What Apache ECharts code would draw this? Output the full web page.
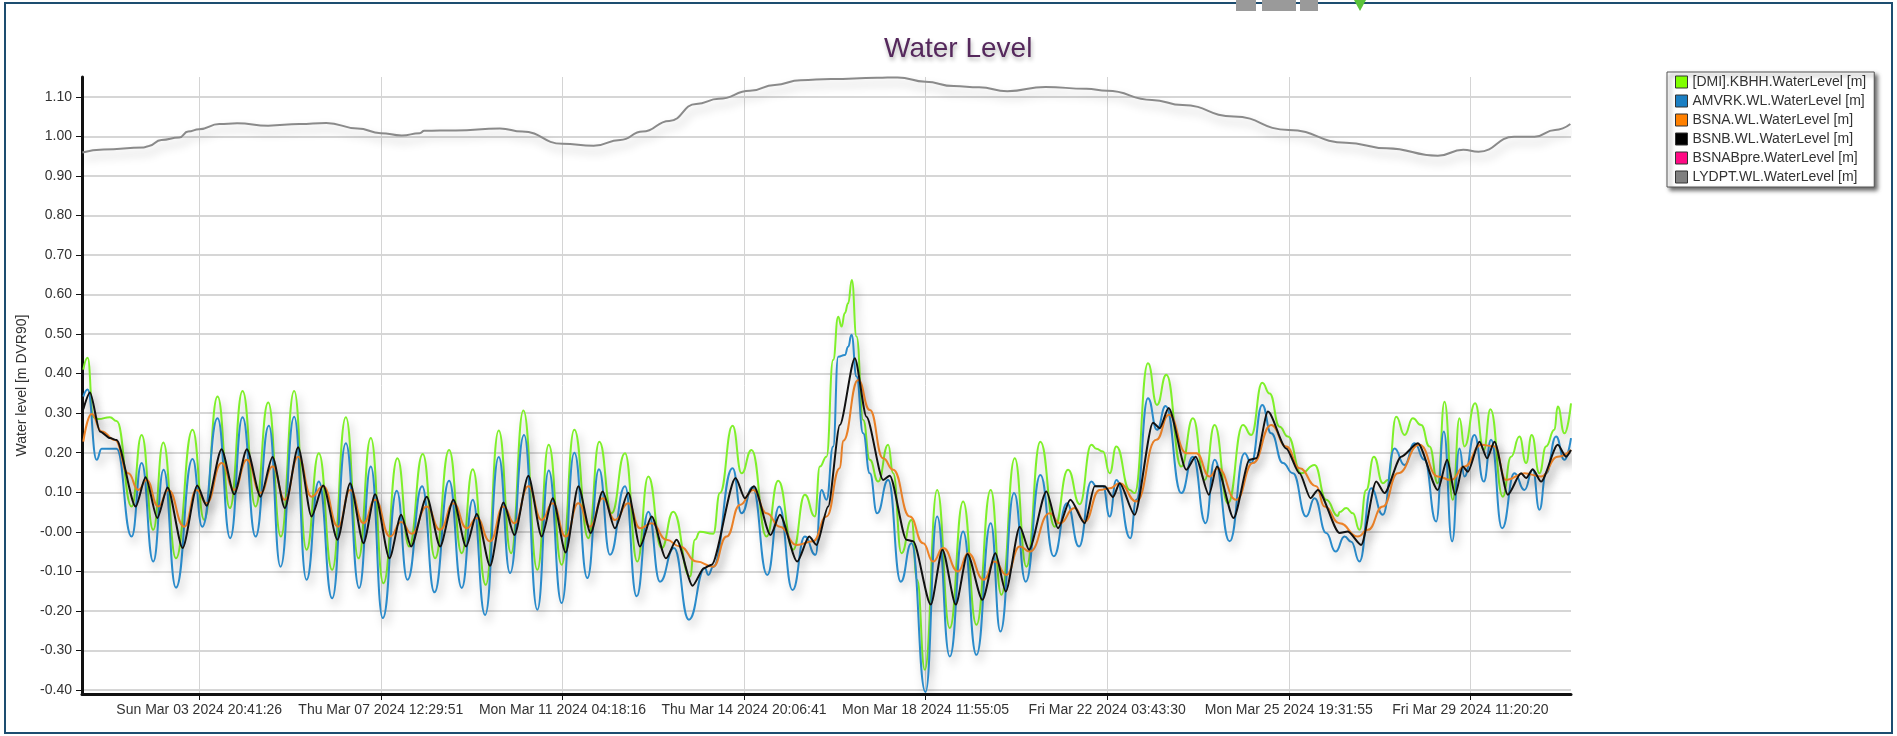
<!DOCTYPE html>
<html>
<head>
<meta charset="utf-8">
<script src="https://cdn.jsdelivr.net/npm/echarts@6.0.0/dist/echarts.min.js"></script>
<style>
html,body{margin:0;padding:0;background:#ffffff;}
#chart{width:1897px;height:736px;}
</style>
</head>
<body>
<div id="chart"></div>
<script>
// ---- Data (time in hours since Fri Mar 01 2024 00:00) ----
const seriesNames = [
  '[DMI].KBHH.WaterLevel [m]',
  'AMVRK.WL.WaterLevel [m]',
  'BSNA.WL.WaterLevel [m]',
  'BSNB.WL.WaterLevel [m]',
  'BSNABpre.WaterLevel [m]',
  'LYDPT.WL.WaterLevel [m]'
];

const xTickHours = [68.6906, 156.4975, 244.3044, 332.1114, 419.9181, 507.7250, 595.5319, 683.3389];
const xTickLabels = [
  'Sun Mar 03 2024 20:41:26', 'Thu Mar 07 2024 12:29:51', 'Mon Mar 11 2024 04:18:16',
  'Thu Mar 14 2024 20:06:41', 'Mon Mar 18 2024 11:55:05', 'Fri Mar 22 2024 03:43:30',
  'Mon Mar 25 2024 19:31:55', 'Fri Mar 29 2024 11:20:20'
];
const yTickValues = [-0.4, -0.3, -0.2, -0.1, 0, 0.1, 0.2, 0.3, 0.4, 0.5, 0.6, 0.7, 0.8, 0.9, 1.0, 1.1];
const yTickLabels = ['-0.40','-0.30','-0.20','-0.10','-0.00','0.10','0.20','0.30','0.40','0.50','0.60','0.70','0.80','0.90','1.00','1.10'];

const kbhh = [[12.64,0.41],[14.73,0.44],[17.47,0.29],[19.88,0.285],[25.52,0.29],[28.74,0.28],[35.99,0.064],[40.83,0.245],[46.46,0.005],[51.30,0.226],
[57.42,-0.067],[65.47,0.258],[71.11,0.03],[77.55,0.342],[83.51,0.06],[89.63,0.356],[95.92,0.064],[102.04,0.327],[108.16,-0.012],[114.60,0.356],
[120.56,-0.045],[126.52,0.199],[132.96,-0.096],[139.57,0.29],[145.69,-0.067],[151.65,0.237],[157.77,-0.13],[164.54,0.186],[170.18,-0.037],[176.78,0.197],
[182.74,-0.067],[189.51,0.207],[195.63,-0.054],[200.94,0.158],[207.22,-0.134],[213.51,0.256],[219.47,-0.054],[225.43,0.307],[232.19,-0.096],[237.67,0.22],
[243.95,-0.083],[250.07,0.258],[256.84,-0.016],[262.15,0.228],[268.11,0.047],[274.56,0.199],[280.52,-0.075],[285.83,0.14],[292.27,-0.041],[297.91,0.051],
[305.97,-0.113],[308.38,-0.02],[310.80,0.0],[317.24,-0.005],[320.46,0.098],[326.58,0.268],[330.93,0.148],[335.77,0.207],[343.01,-0.012],[348.65,0.129],
[355.90,-0.045],[361.54,0.094],[366.37,0.039],[368.79,0.165],[372.0,0.19],[375.23,0.435],[377.65,0.544],[379.26,0.519],[380.87,0.553],[382.48,0.578],
[384.25,0.637],[386.51,0.494],[389.73,0.283],[392.95,0.182],[396.98,0.127],[401.81,0.22],[404.23,0.148],[408.25,-0.054],[413.08,0.03],[415.82,-0.121],
[419.53,-0.349],[425.49,0.106],[431.61,-0.243],[438.05,0.077],[444.50,-0.235],[451.42,0.106],[456.58,-0.159],[463.02,0.186],[468.66,-0.088],[475.42,0.228],
[482.35,0.013],[488.79,0.157],[494.43,0.07],[500.07,0.22],[502.48,0.21],[505.71,0.203],[508.93,0.148],[512.15,0.216],[518.59,0.106],[521.01,0.098],
[527.45,0.426],[531.80,0.321],[536.31,0.397],[543.56,0.165],[549.20,0.287],[554.84,0.131],[559.67,0.27],[566.11,0.072],[573.36,0.27],[577.39,0.245],
[582.70,0.377],[586.25,0.35],[591.08,0.266],[595.11,0.241],[601.55,0.148],[608.0,0.169],[613.63,0.081],[619.27,0.04],[620.08,0.05],[623.30,0.06],
[626.52,0.047],[629.74,0.005],[632.97,0.106],[636.67,0.19],[641.02,0.123],[643.44,0.131],[647.46,0.291],[651.49,0.245],[655.52,0.287],[659.54,0.27],
[663.57,0.216],[667.60,0.123],[670.82,0.329],[674.85,0.081],[678.07,0.287],[680.48,0.216],[685.64,0.325],[689.83,0.207],[693.05,0.31],[699.01,0.089],
[703.03,0.19],[707.07,0.241],[710.28,0.174],[713.02,0.245],[716.73,0.148],[719.95,0.216],[723.98,0.258],[725.59,0.317],[728.81,0.249],[732.0,0.325]];

const amvrk = [[12.64,0.342],[14.73,0.36],[19.08,0.182],[21.50,0.21],[25.52,0.21],[28.74,0.21],[35.99,-0.012],[40.83,0.174],[46.46,-0.075],[51.46,0.157],
[57.42,-0.141],[65.47,0.184],[70.14,0.013],[77.55,0.287],[83.67,-0.016],[89.63,0.29],[95.92,-0.012],[102.36,0.268],[108.0,-0.088],[114.60,0.291],
[120.56,-0.121],[126.52,0.127],[132.96,-0.168],[139.57,0.224],[146.01,-0.142],[151.65,0.165],[157.45,-0.218],[164.22,0.104],[169.37,-0.121],[176.46,0.115],
[182.42,-0.153],[189.51,0.129],[195.63,-0.142],[200.94,0.081],[206.90,-0.21],[213.51,0.189],[218.98,-0.104],[225.75,0.245],[232.19,-0.197],[237.67,0.155],
[243.95,-0.18],[250.07,0.2],[256.35,-0.117],[262.0,0.158],[267.31,-0.058],[274.56,0.115],[280.19,-0.163],[285.83,0.051],[291.47,-0.126],[298.23,-0.041],
[305.48,-0.222],[313.21,-0.092],[314.83,-0.109],[317.24,-0.088],[326.58,0.161],[330.93,0.047],[336.25,0.113],[343.34,-0.109],[349.14,0.064],[355.58,-0.147],
[361.54,-0.012],[366.69,-0.058],[369.59,0.106],[372.0,0.081],[375.23,0.216],[377.65,0.443],[380.87,0.447],[382.48,0.468],[384.09,0.498],[386.51,0.393],
[389.73,0.249],[392.95,0.148],[396.49,0.047],[401.81,0.131],[407.93,-0.126],[413.08,-0.029],[419.85,-0.405],[425.49,0.039],[431.61,-0.315],[438.05,0.001],
[444.50,-0.311],[451.42,0.022],[456.09,-0.252],[462.70,0.098],[468.34,-0.126],[475.42,0.144],[481.87,-0.062],[488.31,0.072],[494.11,-0.037],[500.07,0.127],
[502.48,0.115],[505.71,0.115],[508.93,0.039],[512.15,0.131],[518.91,-0.016],[521.81,0.081],[527.45,0.338],[531.80,0.258],[535.99,0.318],[543.56,0.098],
[549.20,0.19],[555.32,0.022],[559.67,0.182],[566.92,-0.024],[574.16,0.199],[577.39,0.174],[582.70,0.321],[587.05,0.249],[592.69,0.174],[597.52,0.148],
[603.97,0.039],[608.0,0.085],[613.63,-0.003],[618.14,-0.05],[622.49,-0.012],[625.72,-0.025],[629.74,-0.075],[635.38,0.11],[641.02,0.043],[646.66,0.211],
[651.49,0.169],[656.32,0.224],[661.15,0.182],[666.79,0.026],[670.50,0.254],[674.52,-0.024],[678.07,0.211],[680.48,0.14],[685.32,0.245],[689.83,0.127],
[693.37,0.233],[698.69,0.009],[704.65,0.148],[709.48,0.106],[713.51,0.157],[716.73,0.056],[719.95,0.148],[724.78,0.241],[728.81,0.182],[732.0,0.237]];

const bsna = [[12.64,0.228],[16.66,0.298],[21.50,0.254],[27.94,0.232],[34.38,0.148],[39.21,0.106],[43.24,0.131],[48.88,0.064],[53.71,0.106],[61.44,0.013],
[67.40,0.106],[72.24,0.072],[79.48,0.174],[85.61,0.106],[91.73,0.182],[98.33,0.098],[104.13,0.165],[110.09,0.081],[116.53,0.19],[122.98,0.089],
[128.62,0.115],[135.86,0.013],[141.66,0.106],[148.11,0.022],[153.75,0.081],[160.99,-0.012],[166.31,0.025],[171.46,-0.005],[178.71,0.064],[185.16,0.005],
[191.60,0.072],[198.04,0.009],[202.88,0.035],[209.32,-0.024],[215.76,0.064],[221.08,0.022],[227.84,0.115],[234.29,0.03],[239.60,0.072],[245.88,-0.012],
[252.0,0.072],[257.64,0.013],[263.76,0.085],[269.72,0.03],[276.17,0.072],[281.80,0.009],[287.44,0.022],[294.69,-0.02],[301.13,-0.037],[309.19,-0.075],
[317.24,-0.088],[323.69,-0.012],[330.13,0.068],[336.57,0.106],[343.01,0.047],[349.46,0.013],[357.51,-0.033],[365.57,-0.024],[372.0,0.039],[378.45,0.161],
[380.06,0.23],[387.31,0.384],[392.95,0.308],[399.39,0.186],[404.23,0.157],[412.28,0.039],[418.72,-0.029],[423.55,-0.075],[428.39,-0.041],[435.64,-0.1],
[440.47,-0.054],[448.04,-0.121],[453.35,-0.075],[458.99,-0.109],[465.44,-0.037],[470.27,-0.05],[479.93,0.047],[484.77,0.022],[492.01,0.06],[496.84,0.026],
[504.09,0.106],[508.93,0.11],[513.76,0.123],[521.81,0.077],[531.48,0.233],[537.60,0.296],[545.98,0.199],[550.81,0.199],[557.25,0.14],[561.28,0.161],
[570.14,0.081],[578.19,0.174],[587.05,0.27],[594.30,0.216],[600.74,0.161],[608.80,0.115],[612.83,0.064],[620.07,0.022],[628.94,-0.012],[633.77,0.005],
[641.02,0.064],[648.27,0.148],[658.74,0.22],[667.60,0.14],[674.04,0.131],[680.48,0.165],[688.54,0.22],[694.98,0.216],[700.62,0.131],[709.48,0.148],
[717.53,0.14],[725.59,0.19],[732.0,0.207]];

const bsnb = [[12.64,0.31],[15.86,0.352],[20.69,0.254],[25.52,0.237],[28.74,0.232],[37.93,0.064],[42.76,0.138],[48.40,0.035],[53.39,0.112],[60.64,-0.041],
[67.73,0.117],[72.24,0.066],[79.48,0.209],[85.61,0.095],[91.73,0.209],[98.33,0.089],[104.13,0.189],[110.09,0.06],[116.53,0.214],[122.98,0.039],
[128.62,0.117],[135.54,-0.02],[141.66,0.123],[148.11,-0.029],[153.75,0.095],[160.67,-0.067],[166.31,0.043],[171.14,-0.037],[178.71,0.089],[185.16,-0.037],
[191.60,0.081],[197.72,-0.037],[202.88,0.045],[209.32,-0.086],[215.76,0.074],[221.08,-0.008],[227.84,0.142],[234.29,-0.012],[239.60,0.085],[245.88,-0.052],
[252.0,0.115],[257.96,-0.003],[263.76,0.102],[269.72,0.009],[276.17,0.099],[281.80,-0.037],[287.44,0.039],[294.37,-0.067],[299.52,-0.02],[307.25,-0.136],
[312.73,-0.092],[316.44,-0.083],[328.03,0.136],[332.54,0.085],[336.89,0.115],[344.95,-0.008],[349.46,0.043],[357.83,-0.075],[363.63,-0.012],[367.18,-0.033],
[372.81,0.064],[378.45,0.27],[385.70,0.439],[391.34,0.291],[399.39,0.131],[402.61,0.142],[410.67,-0.02],[413.89,-0.024],[422.43,-0.184],[428.06,-0.045],
[434.50,-0.184],[440.15,-0.056],[447.40,-0.172],[453.68,-0.054],[458.67,-0.151],[465.44,0.013],[469.95,-0.045],[478.32,0.102],[483.96,0.009],[489.92,0.081],
[496.84,0.022],[501.68,0.115],[506.51,0.115],[510.54,0.088],[513.76,0.123],[521.01,0.043],[529.87,0.276],[533.09,0.262],[537.44,0.313],[545.98,0.157],
[550.49,0.19],[556.93,0.094],[560.79,0.165],[568.85,0.035],[576.58,0.182],[579.80,0.186],[585.44,0.304],[594.30,0.211],[600.74,0.148],[606.06,0.085],
[609.60,0.106],[620.07,-0.003],[624.11,0.001],[630.55,-0.033],[637.80,0.127],[641.82,0.098],[649.88,0.19],[657.93,0.224],[667.60,0.106],[672.11,0.182],
[675.98,0.094],[679.68,0.165],[682.10,0.152],[687.73,0.228],[691.44,0.186],[694.98,0.228],[701.42,0.094],[707.87,0.148],[710.28,0.136],[713.51,0.158],
[717.53,0.127],[725.59,0.22],[729.61,0.19],[732.0,0.207]];

const bsnabpre = [];

const lydpt = [[12.2,0.959],[22.4,0.967],[41.8,0.972],[44.0,0.975],[50.4,0.991],[59.0,0.997],[63.3,1.012],[68.7,1.018],[78.4,1.031],[87.0,1.033],
[102.0,1.027],[117.2,1.031],[130.1,1.034],[145.2,1.020],[156.5,1.008],[166.6,1.002],[175.3,1.008],[177.5,1.014],[192.6,1.015],[214.1,1.020],
[224.9,1.012],[244.3,0.981],[259.4,0.976],[272.3,0.991],[283.1,1.012],[296.0,1.039],[309.0,1.082],[320.0,1.095],[335.0,1.115],[347.0,1.130],
[359.5,1.142],[374.3,1.145],[396.5,1.148],[406.4,1.149],[419.9,1.138],[433.5,1.127],[445.8,1.124],[459.4,1.114],[477.9,1.125],[497.6,1.120],
[507.7,1.115],[529.4,1.092],[544.2,1.079],[568.9,1.050],[595.5,1.016],[623.2,0.984],[642.9,0.970],[667.6,0.951],[679.9,0.966],[687.3,0.961],
[704.5,0.999],[714.4,0.999],[724.3,1.016],[731.7,1.031]];

const seriesData = [kbhh, amvrk, bsna, bsnb, bsnabpre, lydpt];
const seriesColors = ['#7ff02a', '#2a8bcb', '#f08428', '#111111', '#ec1b7e', '#8a8a8a'];
const legendColors = ['#80ff00', '#1b7fc3', '#ff8000', '#000000', '#ff0a84', '#808080'];
const smoothness = [0.5, 0.5, 0.5, 0.25, 0.5, 0.5];

const FONT = '"Liberation Sans", Arial, Helvetica, sans-serif';

const chart = echarts.init(document.getElementById('chart'), null, {renderer: 'canvas'});

const series = seriesNames.map((name, i) => ({
  name: name,
  type: 'line',
  data: seriesData[i],
  showSymbol: false,
  symbol: 'none',
  smooth: smoothness[i],
  smoothMonotone: 'x',
  clip: true,
  color: legendColors[i],
  lineStyle: {
    color: seriesColors[i],
    width: 2,
    shadowColor: 'rgba(0,0,0,0.28)',
    shadowBlur: 10,
    shadowOffsetX: 3,
    shadowOffsetY: 6
  },
  emphasis: {disabled: true},
  z: 2 + i
}));

const option = {
  animation: false,
  backgroundColor: '#ffffff',
  textStyle: {fontFamily: FONT},
  title: {
    text: 'Water Level',
    left: 884,
    top: 35,
    padding: 0,
    textStyle: {
      fontFamily: FONT,
      fontSize: 28,
      fontWeight: 'normal',
      color: '#55285c',
      textShadowColor: 'rgba(0,0,0,0.3)',
      textShadowBlur: 4,
      textShadowOffsetX: 1,
      textShadowOffsetY: 3
    }
  },
  legend: {
    orient: 'vertical',
    left: 1667,
    top: 72,
    padding: [3, 8, 3, 8],
    itemGap: 5,
    itemWidth: 12,
    itemHeight: 12,
    icon: 'rect',
    selectedMode: false,
    backgroundColor: '#ffffff',
    borderColor: '#555555',
    borderWidth: 1,
    borderRadius: 0,
    shadowColor: 'rgba(0,0,0,0.6)',
    shadowBlur: 4,
    shadowOffsetX: 3,
    shadowOffsetY: 3,
    itemStyle: {borderColor: '#333333', borderWidth: 1},
    textStyle: {fontFamily: FONT, fontSize: 14, color: '#333333', padding: [0, 0, 0, 0]},
    data: seriesNames.map((n, i) => ({name: n, itemStyle: {color: legendColors[i]}}))
  },
  grid: {
    left: 82,
    right: 326,
    top: 77,
    bottom: 42,
    containLabel: false,
    outerBoundsMode: 'none'
  },
  xAxis: {
    type: 'value',
    min: 12,
    max: 732,
    axisLine: {onZero: false, lineStyle: {color: '#111111', width: 3}},
    axisTick: {show: true, length: 6, customValues: xTickHours, lineStyle: {color: '#111111', width: 1}},
    axisLabel: {
      customValues: xTickHours,
      margin: 9,
      fontFamily: FONT,
      fontSize: 14,
      color: '#333333',
      formatter: function (v) {
        for (let i = 0; i < xTickHours.length; i++) {
          if (Math.abs(xTickHours[i] - v) < 0.01) return xTickLabels[i];
        }
        return '';
      }
    },
    splitLine: {show: true, lineStyle: {color: '#d4d4d4', width: 1}}
  },
  yAxis: {
    type: 'value',
    min: -0.41,
    max: 1.15,
    name: 'Water level [m DVR90]',
    nameLocation: 'middle',
    nameGap: 43,
    nameRotate: 90,
    nameTextStyle: {fontFamily: FONT, fontSize: 14, color: '#333333'},
    axisLine: {onZero: false, show: true, lineStyle: {color: '#111111', width: 3}},
    axisTick: {show: true, length: 6, customValues: yTickValues, lineStyle: {color: '#111111', width: 1}},
    axisLabel: {
      customValues: yTickValues,
      margin: 10,
      fontFamily: FONT,
      fontSize: 14,
      color: '#333333',
      formatter: function (v) {
        for (let i = 0; i < yTickValues.length; i++) {
          if (Math.abs(yTickValues[i] - v) < 1e-6) return yTickLabels[i];
        }
        return '';
      }
    },
    splitLine: {show: true, lineStyle: {color: '#d6d6d6', width: 2}}
  },
  graphic: [
    {type: 'rect', silent: true, z: 100, shape: {x: 5, y: 3, width: 1887, height: 730},
     style: {fill: 'none', stroke: '#1d4d70', lineWidth: 2}},
    {type: 'rect', silent: true, z: 100, shape: {x: 1236, y: 0, width: 20, height: 11}, style: {fill: '#9a9a9a'}},
    {type: 'rect', silent: true, z: 100, shape: {x: 1262, y: 0, width: 34, height: 11}, style: {fill: '#9a9a9a'}},
    {type: 'rect', silent: true, z: 100, shape: {x: 1300, y: 0, width: 18, height: 11}, style: {fill: '#9a9a9a'}},
    {type: 'polygon', silent: true, z: 100, shape: {points: [[1354, 0], [1366, 0], [1360, 11]]}, style: {fill: '#5cc43a'}}
  ],
  series: series
};

chart.setOption(option);
</script>
</body>
</html>
